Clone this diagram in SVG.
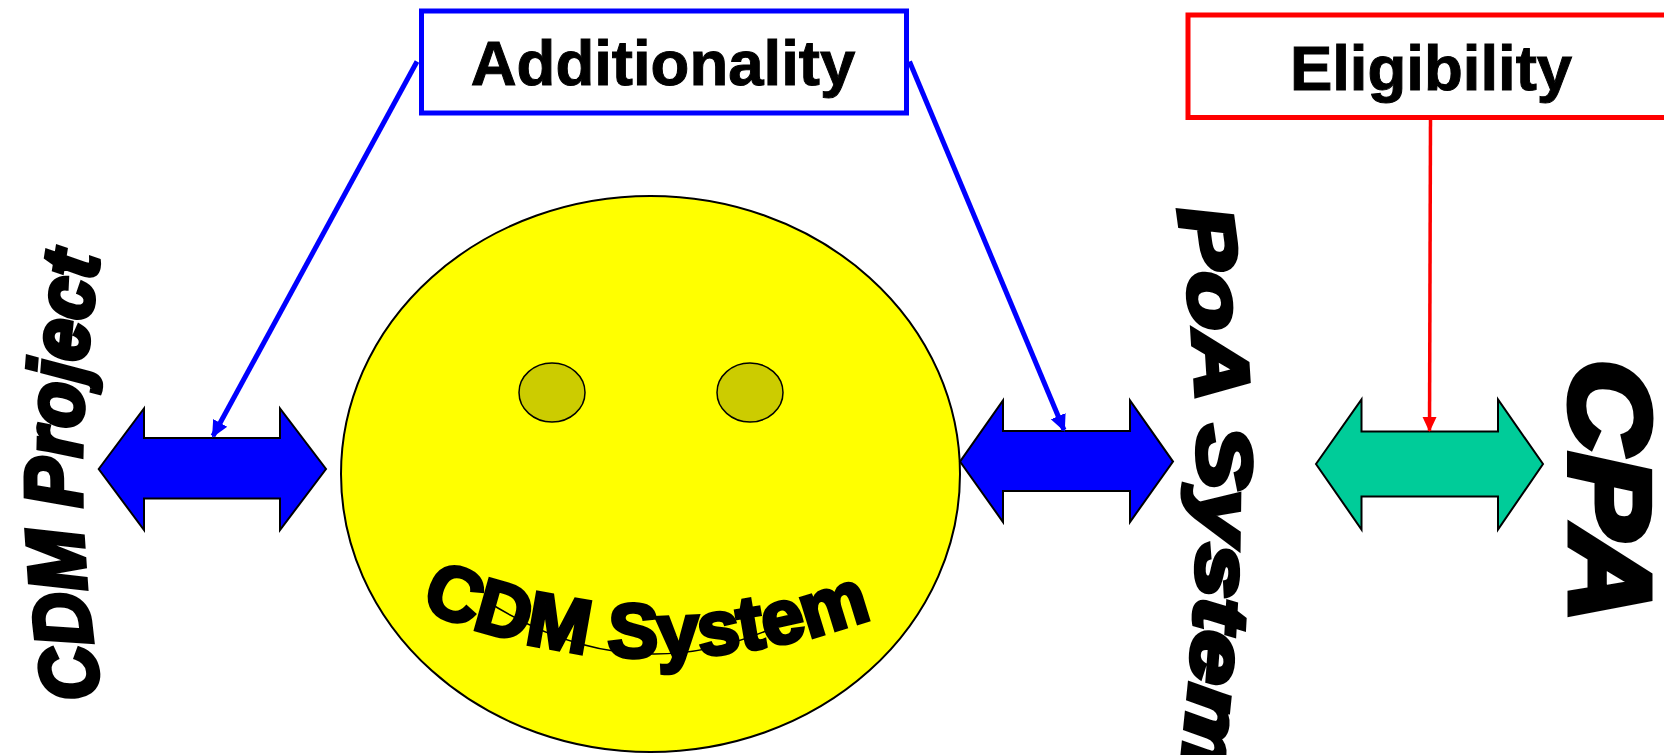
<svg xmlns="http://www.w3.org/2000/svg" width="1664" height="755" viewBox="0 0 1664 755">
<style>
.box{fill:#fff;stroke-width:5}
.lbl{font:bold 63.5px "Liberation Sans",Arial,sans-serif;fill:#000;stroke:#000;stroke-width:1;text-anchor:middle}
.arrow{stroke:#000;stroke-width:2}
.eye{fill:#cccc00;stroke:#000;stroke-width:1.5}
.wa{font-family:"Liberation Sans",Arial,sans-serif;font-weight:bold;fill:#000;stroke:#000;stroke-linejoin:miter}
.blue{fill:none;stroke:#0000ff;stroke-width:5}
.red{fill:none;stroke:#ff0000;stroke-width:3.500}
</style>
<defs>
<marker id="mb" markerUnits="userSpaceOnUse" markerWidth="18" markerHeight="18" refX="15" refY="9" orient="auto"><path d="M0 1L17 9L0 17Z" fill="#0000ff"/></marker>
<marker id="mr" markerUnits="userSpaceOnUse" markerWidth="16" markerHeight="16" refX="14" refY="8" orient="auto"><path d="M0 1L15 8L0 15Z" fill="#ff0000"/></marker>
<path id="p1" d="M101 696Q60 470 103 236"/>
<path id="p2" d="M1178 210Q1220 480 1176 810"/>
<path id="p3" d="M420 608Q645 705 888 612"/>
</defs>
<rect width="1664" height="755" fill="#fff"/>
<g id="cdm-system">
<ellipse cx="650.5" cy="474" rx="309.5" ry="278" fill="#ffff00" stroke="#000" stroke-width="2"/>
<ellipse class="eye" cx="552" cy="392.5" rx="33" ry="29.5"/>
<ellipse class="eye" cx="750" cy="392.5" rx="33" ry="29.5"/>
<path d="M485 600Q640 700 800 615" fill="none" stroke="#000" stroke-width="1.5"/>
<text class="wa" font-size="76" stroke-width="4"><textPath href="#p3" textLength="464" lengthAdjust="spacingAndGlyphs">CDM System</textPath></text>
</g>
<g id="additionality"><rect class="box" x="421.500" y="11" width="485" height="102" stroke="#0000ff"/><text class="lbl" x="663" y="85">Additionality</text></g>
<g id="eligibility"><rect class="box" x="1188" y="15" width="490" height="102.500" stroke="#ff0000"/><text class="lbl" x="1431" y="90">Eligibility</text></g>
<g id="arrow-left"><path class="arrow" fill="#0000ff" d="M98.700 469L144 408.500V438H280V408.500L326 469L280 530V498.500H144V530Z"/></g>
<g id="arrow-mid"><path class="arrow" fill="#0000ff" d="M960 461.600L1003 400.500V431H1130V400.500L1173 461.600L1130 522V491H1003V522Z"/></g>
<g id="arrow-right"><path class="arrow" fill="#00cc99" d="M1316 464L1361.500 399.500V431.500H1498V399.500L1543 464L1498 529.500V496.600H1361.500V529.500Z"/></g>
<g id="cdm-project"><text class="wa" font-size="80" font-style="italic" stroke-width="5"><textPath href="#p1" textLength="442" lengthAdjust="spacingAndGlyphs">CDM Project</textPath></text></g>
<g id="poa-system"><text class="wa" font-size="76" font-style="italic" stroke-width="5"><textPath href="#p2" textLength="560" lengthAdjust="spacingAndGlyphs">PoA System</textPath></text></g>
<g id="cpa"><text class="wa" font-size="114" font-style="italic" stroke-width="7" textLength="262" lengthAdjust="spacingAndGlyphs" transform="translate(1571 360) rotate(90)">CPA</text></g>
<g id="connectors">
<path class="blue" d="M417 61.500L213 436" marker-end="url(#mb)"/>
<path class="blue" d="M909.500 61.500L1064 430" marker-end="url(#mb)"/>
<path class="red" d="M1430.500 117L1429.500 431" marker-end="url(#mr)"/>
</g>
</svg>
